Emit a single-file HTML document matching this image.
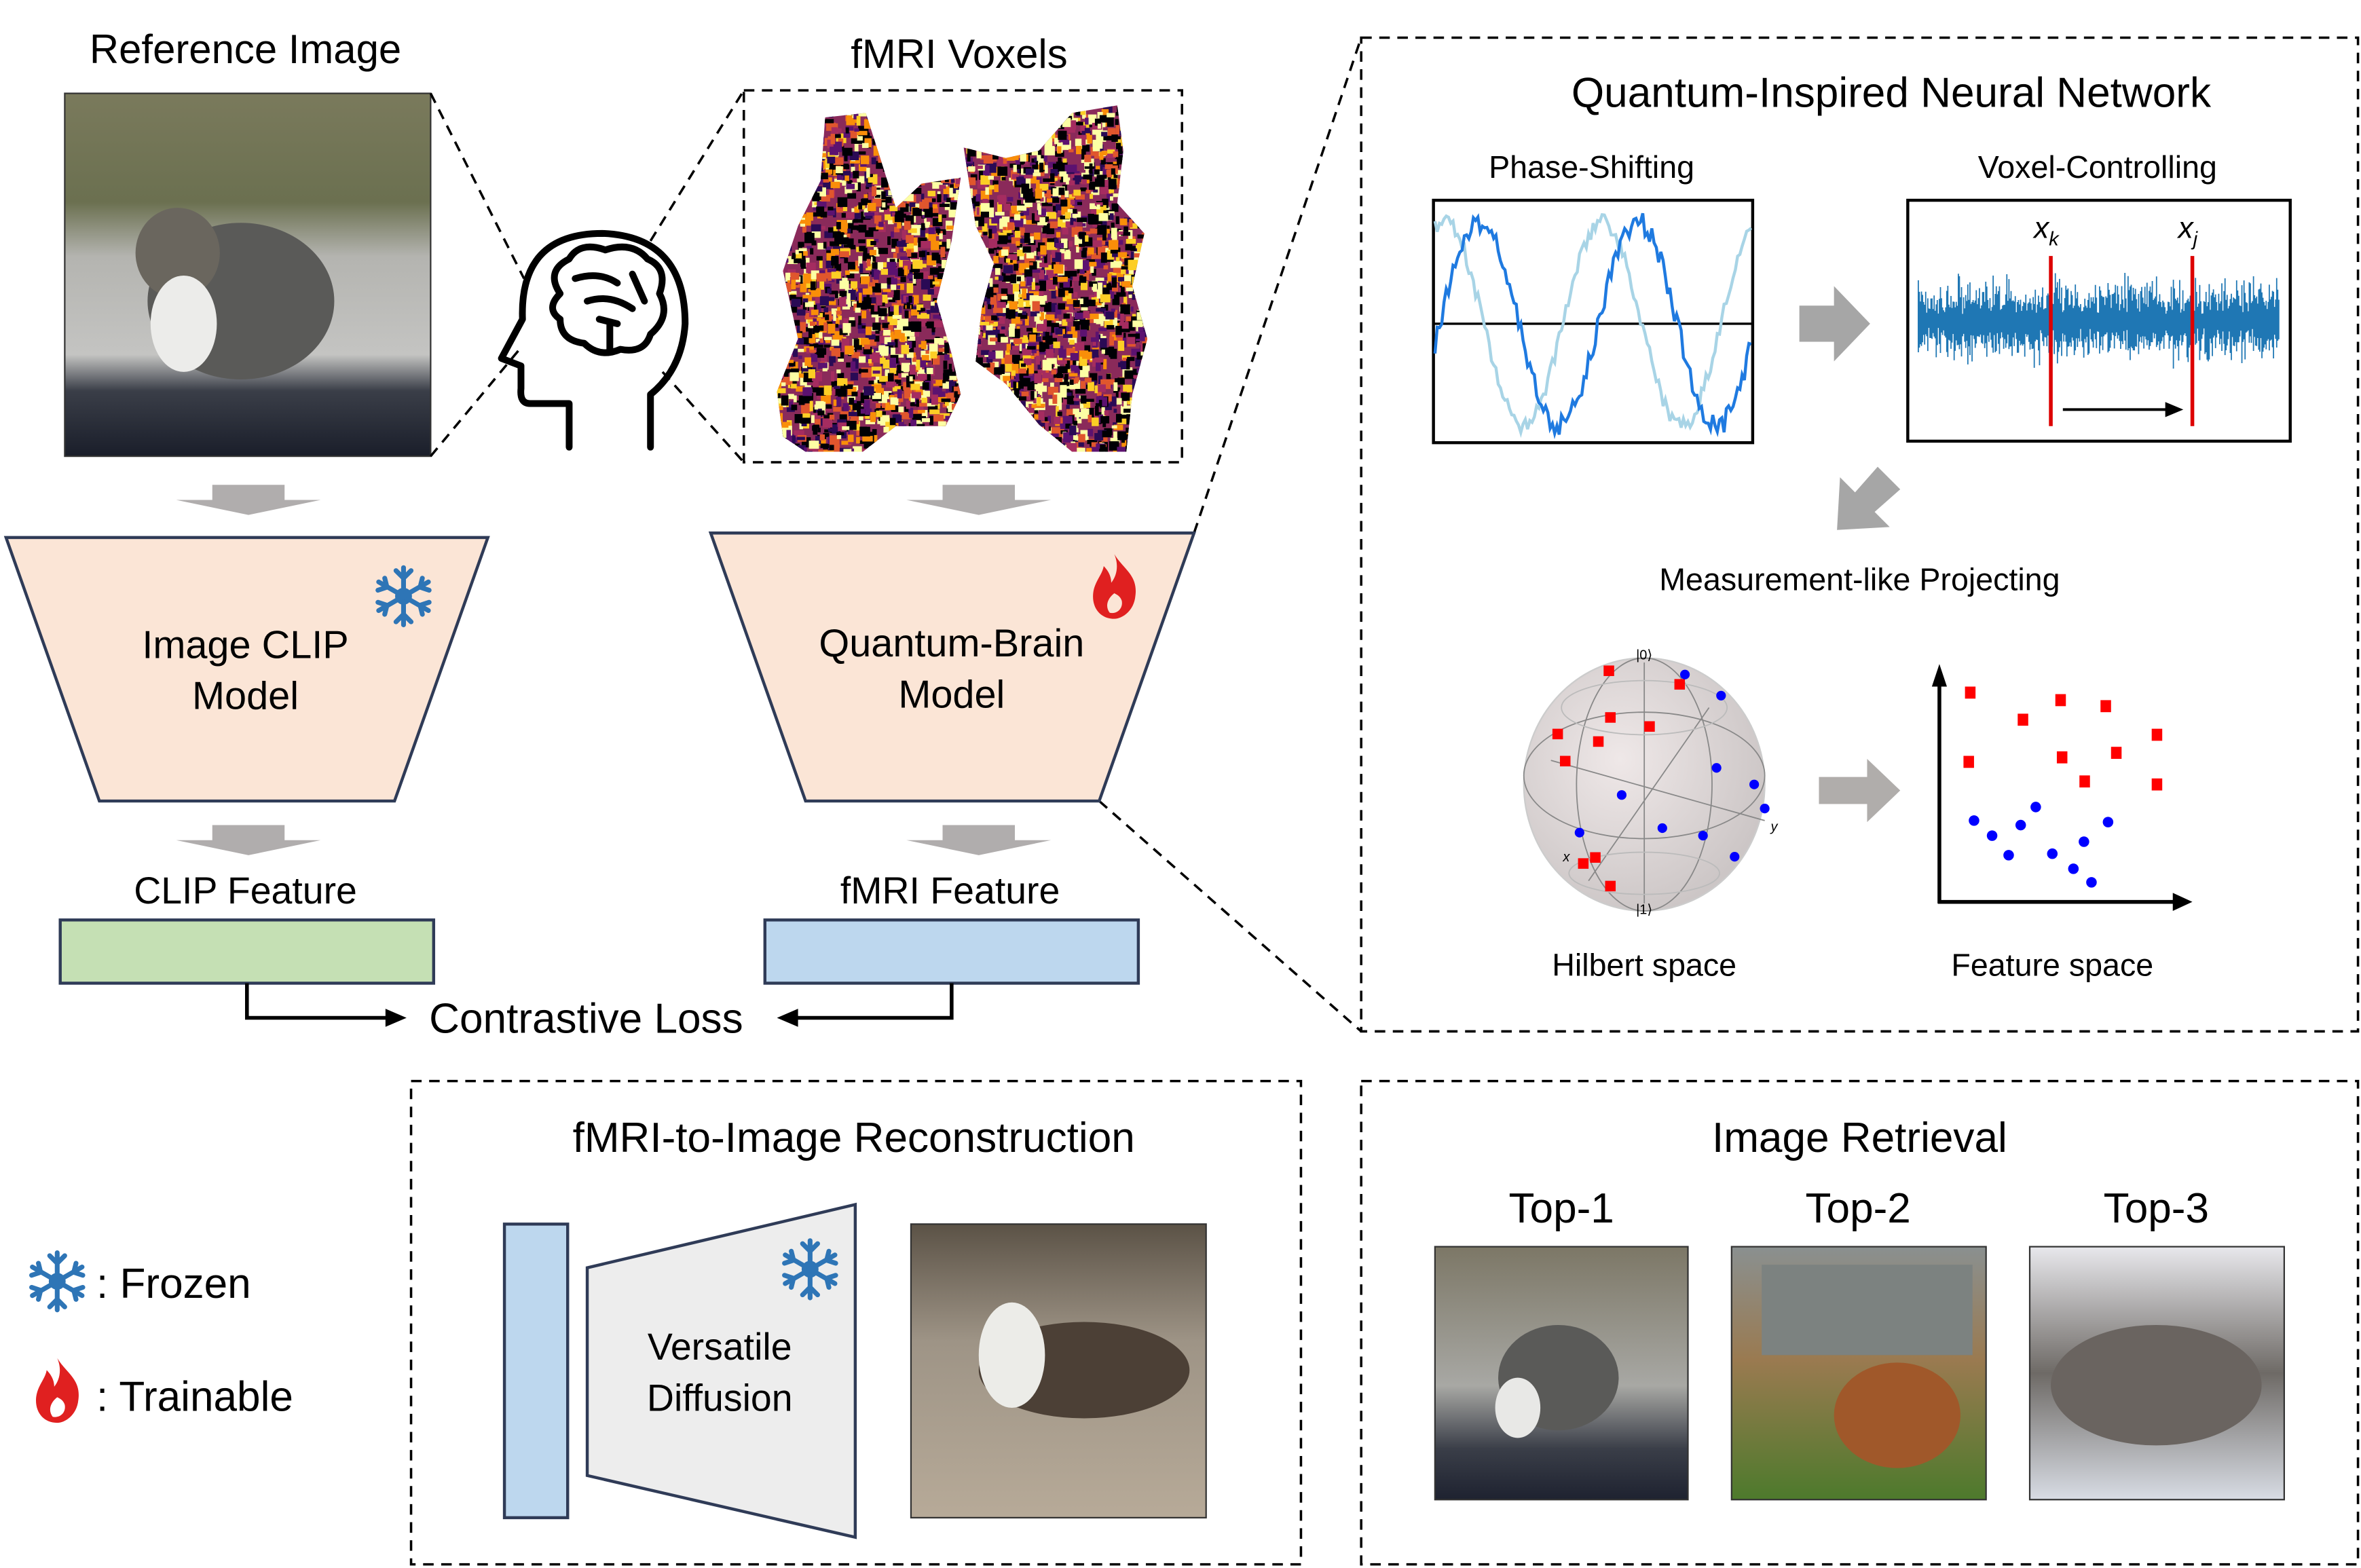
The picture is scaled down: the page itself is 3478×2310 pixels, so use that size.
<!DOCTYPE html>
<html><head><meta charset="utf-8"><style>
html,body{margin:0;padding:0;background:#fff;width:3478px;height:2310px;overflow:hidden}
svg{display:block}
text{font-family:"Liberation Sans","DejaVu Sans",sans-serif;fill:#000}
</style></head><body>
<svg id="s" width="3478" height="2310" viewBox="0 0 1568 1041.4" xmlns="http://www.w3.org/2000/svg">
<defs>
<linearGradient id="cat1" x1="0" y1="0" x2="0" y2="1"><stop offset="0" stop-color="#7a7a5c"/><stop offset="0.3" stop-color="#6b7050"/><stop offset="0.45" stop-color="#b4b4b0"/><stop offset="0.72" stop-color="#c4c4c2"/><stop offset="0.82" stop-color="#3a3e48"/><stop offset="1" stop-color="#1a1e2a"/></linearGradient>
<linearGradient id="cat2" x1="0" y1="0" x2="0" y2="1"><stop offset="0" stop-color="#5b5246"/><stop offset="0.4" stop-color="#9e9486"/><stop offset="1" stop-color="#b7aa98"/></linearGradient>
<linearGradient id="cat3" x1="0" y1="0" x2="0" y2="1"><stop offset="0" stop-color="#7c7766"/><stop offset="0.55" stop-color="#a8a8a4"/><stop offset="0.8" stop-color="#3a3e48"/><stop offset="1" stop-color="#1e2230"/></linearGradient>
<linearGradient id="cat4" x1="0" y1="0" x2="0" y2="1"><stop offset="0" stop-color="#8a9090"/><stop offset="0.45" stop-color="#9a7a50"/><stop offset="1" stop-color="#4d7a2c"/></linearGradient>
<linearGradient id="cat5" x1="0" y1="0" x2="0" y2="1"><stop offset="0" stop-color="#e8e8ec"/><stop offset="0.5" stop-color="#6e6a66"/><stop offset="1" stop-color="#d8dce4"/></linearGradient>
<radialGradient id="sph" cx="0.4" cy="0.4" r="0.7"><stop offset="0" stop-color="#efe8e8"/><stop offset="1" stop-color="#c8c2c2"/></radialGradient>
<clipPath id="b1"><path d="M548,78 L575,75 L583,100 L595,138 L612,122 L638,118 L632,160 L622,200 L632,235 L638,262 L628,283 L595,283 L573,300 L535,300 L520,290 L516,260 L530,225 L520,180 L530,150 L545,120 Z"/></clipPath>
<clipPath id="b2"><path d="M640,98 L668,105 L690,100 L712,75 L742,70 L746,100 L742,135 L760,155 L752,190 L762,225 L752,262 L748,300 L712,300 L690,282 L668,255 L648,240 L652,205 L660,175 L648,150 Z"/></clipPath>
<g id="flake"><g stroke="#2e75b6" stroke-width="3.2" stroke-linecap="round" fill="none">
<line x1="0" y1="-19" x2="0" y2="19"/><line x1="-16.5" y1="-9.5" x2="16.5" y2="9.5"/><line x1="-16.5" y1="9.5" x2="16.5" y2="-9.5"/>
<path d="M-5,-17 L0,-12 L5,-17 M-5,17 L0,12 L5,17 M-17,-4 L-11,-6 L-12.5,-12 M17,4 L11,6 L12.5,12 M-17,4 L-11,6 L-12.5,12 M17,-4 L11,-6 L12.5,-12"/>
<circle cx="0" cy="0" r="4"/></g></g>
<g id="fire"><path d="M0,-22 C6,-12 16,-8 14,6 C13,16 5,21 0,21 C-9,21 -15,14 -14,4 C-13,-4 -8,-8 -7,-14 C-3,-10 -2,-6 -2,-3 C2,-8 3,-15 0,-22 Z M0,4 C-5,8 -6,13 -3,17 C2,18 6,14 5,9 C4,6 2,5 0,4 Z" fill="#e02020" fill-rule="evenodd"/></g>
<g id="garrow"><path d="M-24,-10 H24 V0 H48 L0,10 L-48,0 H-24 Z" fill="#b0adad"/></g>
</defs>

<text x="163" y="42" font-size="27" text-anchor="middle">Reference Image</text>
<text x="637" y="45" font-size="27" text-anchor="middle">fMRI Voxels</text>

<rect x="43" y="62" width="243" height="241" fill="url(#cat1)"/>
<ellipse cx="160" cy="200" rx="62" ry="52" fill="#5a5a58"/>
<ellipse cx="118" cy="168" rx="28" ry="30" fill="#6a665e"/>
<ellipse cx="122" cy="215" rx="22" ry="32" fill="#ececea"/>
<rect x="43" y="62" width="243" height="241" fill="none" stroke="#333" stroke-width="1"/>

<g stroke="#000" stroke-width="1.6" stroke-dasharray="7,5" fill="none">
<line x1="286" y1="62" x2="348" y2="185"/><line x1="286" y1="303" x2="345" y2="232"/>
<line x1="432" y1="160" x2="494" y2="60"/><line x1="440" y1="247" x2="494" y2="307"/>
<rect x="494" y="60" width="291" height="247"/>
<line x1="793" y1="354" x2="904" y2="25"/><line x1="730" y1="532" x2="904" y2="685"/>
<rect x="904" y="25" width="662" height="660"/>
<rect x="273" y="718" width="591" height="321"/>
<rect x="904" y="718" width="662" height="321"/>
</g>

<g stroke="#000" stroke-width="4.5" fill="none" stroke-linejoin="round" stroke-linecap="round">
<path d="M378,297 V268 L352,268 Q345,268 346,258 L346,243 L333,238 L347,212 Q345,155 400,155 Q455,157 455,215 Q453,245 432,262 V297"/>
<path d="M372,195 Q362,180 378,172 Q385,160 402,166 Q420,160 430,172 Q444,178 438,195 Q446,210 432,222 Q428,235 412,232 Q398,238 388,228 Q372,226 372,212 Q362,205 372,195 Z"/>
<path d="M405,232 V215 M390,200 Q405,195 420,205 M382,185 Q398,180 410,188 M420,182 L428,200 M398,212 L410,215"/>
</g>

<g id="blob1" clip-path="url(#b1)"><rect x="510" y="70" width="135" height="235" fill="#8a2a5a"/></g>
<g id="blob2" clip-path="url(#b2)"><rect x="640" y="65" width="125" height="240" fill="#8a2a5a"/></g>

<use href="#garrow" x="165" y="332"/>
<use href="#garrow" x="650" y="332"/>
<use href="#garrow" x="165" y="558"/>
<use href="#garrow" x="650" y="558"/>

<path d="M4,357 H324 L262,532 H66 Z" fill="#fbe5d6" stroke="#2f3b57" stroke-width="2"/>
<text x="163" y="437" font-size="26" text-anchor="middle">Image CLIP</text>
<text x="163" y="471" font-size="26" text-anchor="middle">Model</text>
<use href="#flake" x="268" y="396"/>
<path d="M472,354 H793 L730,532 H535 Z" fill="#fbe5d6" stroke="#2f3b57" stroke-width="2"/>
<text x="632" y="436" font-size="26" text-anchor="middle">Quantum-Brain</text>
<text x="632" y="470" font-size="26" text-anchor="middle">Model</text>
<use href="#fire" x="740" y="390"/>

<text x="163" y="600" font-size="25" text-anchor="middle">CLIP Feature</text>
<rect x="40" y="611" width="248" height="42" fill="#c5e0b4" stroke="#2f3b57" stroke-width="2"/>
<text x="631" y="600" font-size="25" text-anchor="middle">fMRI Feature</text>
<rect x="508" y="611" width="248" height="42" fill="#bdd7ee" stroke="#2f3b57" stroke-width="2"/>
<g stroke="#000" stroke-width="2.5" fill="none"><path d="M164,653 V676 H258"/><path d="M632,653 V676 H528"/></g>
<path d="M270,676 L256,670 V682 Z" fill="#000"/><path d="M516,676 L530,670 V682 Z" fill="#000"/>
<text x="285" y="686" font-size="28">Contrastive Loss</text>

<text x="1256" y="71" font-size="28" text-anchor="middle">Quantum-Inspired Neural Network</text>
<text x="1057" y="118" font-size="21" text-anchor="middle">Phase-Shifting</text>
<text x="1393" y="118" font-size="21" text-anchor="middle">Voxel-Controlling</text>
<rect x="952" y="133" width="212" height="161" fill="#fff" stroke="#000" stroke-width="2"/>
<line x1="952" y1="215" x2="1164" y2="215" stroke="#000" stroke-width="1.5"/>
<g id="waves"></g>
<rect x="1267" y="133" width="254" height="160" fill="#fff" stroke="#000" stroke-width="2"/>
<g id="noise"></g>
<line x1="1362" y1="170" x2="1362" y2="283" stroke="#d00" stroke-width="2.5"/>
<line x1="1456" y1="170" x2="1456" y2="283" stroke="#d00" stroke-width="2.5"/>
<line x1="1370" y1="272" x2="1440" y2="272" stroke="#000" stroke-width="1.8"/>
<path d="M1450,272 L1438,267 V277 Z" fill="#000"/>
<text x="1359" y="158" font-size="20" font-style="italic" text-anchor="middle" font-family="Liberation Serif">x<tspan font-size="13" dy="5">k</tspan></text>
<text x="1453" y="158" font-size="20" font-style="italic" text-anchor="middle" font-family="Liberation Serif">x<tspan font-size="13" dy="5">j</tspan></text>
<path d="M1195,203 H1218 V190 L1242,215 L1218,240 V227 H1195 Z" fill="#a6a6a6"/>
<path d="M1247,310 L1262,325 L1245,340 L1255,350 L1220,352 L1222,317 L1232,327 Z" fill="#a6a6a6"/>
<text x="1235" y="392" font-size="21" text-anchor="middle">Measurement-like Projecting</text>

<ellipse cx="1092" cy="521" rx="80" ry="84" fill="url(#sph)" stroke="#ccc" stroke-width="1"/>
<g stroke="#888" stroke-width="0.8" fill="none">
<ellipse cx="1092" cy="515" rx="80" ry="42"/><ellipse cx="1092" cy="521" rx="45" ry="84"/>
<line x1="1092" y1="440" x2="1092" y2="600"/><line x1="1030" y1="505" x2="1172" y2="545"/><line x1="1055" y1="585" x2="1135" y2="470"/>
<ellipse cx="1092" cy="470" rx="55" ry="18" stroke="#bbb"/><ellipse cx="1092" cy="580" rx="50" ry="14" stroke="#bbb"/>
</g>
<text x="1092" y="438" font-size="9" text-anchor="middle">|0⟩</text>
<text x="1092" y="607" font-size="9" text-anchor="middle">|1⟩</text>
<text x="1038" y="572" font-size="9" font-style="italic">x</text>
<text x="1176" y="552" font-size="9" font-style="italic">y</text>
<g fill="#f00">
<rect x="1065" y="442" width="7" height="7"/><rect x="1112" y="451" width="7" height="7"/><rect x="1066" y="473" width="7" height="7"/><rect x="1092" y="479" width="7" height="7"/><rect x="1031" y="484" width="7" height="7"/><rect x="1058" y="489" width="7" height="7"/><rect x="1036" y="502" width="7" height="7"/><rect x="1056" y="566" width="7" height="7"/><rect x="1048" y="570" width="7" height="7"/><rect x="1066" y="585" width="7" height="7"/>
<rect x="1305" y="456" width="7" height="8"/><rect x="1340" y="474" width="7" height="8"/><rect x="1365" y="461" width="7" height="8"/><rect x="1395" y="465" width="7" height="8"/><rect x="1429" y="484" width="7" height="8"/><rect x="1304" y="502" width="7" height="8"/><rect x="1366" y="499" width="7" height="8"/><rect x="1402" y="496" width="7" height="8"/><rect x="1381" y="515" width="7" height="8"/><rect x="1429" y="517" width="7" height="8"/>
</g>
<g fill="#00f">
<circle cx="1119" cy="448" r="3.2"/><circle cx="1143" cy="462" r="3.2"/><circle cx="1140" cy="510" r="3.2"/><circle cx="1077" cy="528" r="3.2"/><circle cx="1165" cy="521" r="3.2"/><circle cx="1172" cy="537" r="3.2"/><circle cx="1049" cy="553" r="3.2"/><circle cx="1104" cy="550" r="3.2"/><circle cx="1131" cy="555" r="3.2"/><circle cx="1152" cy="569" r="3.2"/>
<circle cx="1352" cy="536" r="3.5"/><circle cx="1311" cy="545" r="3.5"/><circle cx="1342" cy="548" r="3.5"/><circle cx="1400" cy="546" r="3.5"/><circle cx="1323" cy="555" r="3.5"/><circle cx="1384" cy="559" r="3.5"/><circle cx="1334" cy="568" r="3.5"/><circle cx="1363" cy="567" r="3.5"/><circle cx="1377" cy="577" r="3.5"/><circle cx="1389" cy="586" r="3.5"/>
</g>
<path d="M1208,516 H1240 V504 L1262,525 L1240,546 V534 H1208 Z" fill="#b0adab"/>
<g stroke="#000" stroke-width="2.5"><line x1="1288" y1="600" x2="1288" y2="455"/><line x1="1287" y1="599" x2="1445" y2="599"/></g>
<path d="M1288,441 L1283,456 H1293 Z" fill="#000"/><path d="M1456,599 L1443,593 V605 Z" fill="#000"/>
<text x="1092" y="648" font-size="21" text-anchor="middle">Hilbert space</text>
<text x="1363" y="648" font-size="21" text-anchor="middle">Feature space</text>

<text x="567" y="765" font-size="28" text-anchor="middle">fMRI-to-Image Reconstruction</text>
<rect x="335" y="813" width="42" height="195" fill="#bdd7ee" stroke="#2f3b57" stroke-width="2"/>
<path d="M390,842 L568,800 V1021 L390,980 Z" fill="#ededed" stroke="#2f3b57" stroke-width="2"/>
<text x="478" y="903" font-size="25" text-anchor="middle">Versatile</text>
<text x="478" y="937" font-size="25" text-anchor="middle">Diffusion</text>
<use href="#flake" x="538" y="843"/>
<rect x="605" y="813" width="196" height="195" fill="url(#cat2)"/>
<ellipse cx="720" cy="910" rx="70" ry="32" fill="#4c4036"/>
<ellipse cx="672" cy="900" rx="22" ry="35" fill="#ecece8"/>
<rect x="605" y="813" width="196" height="195" fill="none" stroke="#333" stroke-width="1"/>

<use href="#flake" x="38" y="851"/>
<text x="64" y="862" font-size="28">: Frozen</text>
<use href="#fire" x="38" y="924"/>
<text x="64" y="937" font-size="28">: Trainable</text>

<text x="1235" y="765" font-size="28" text-anchor="middle">Image Retrieval</text>
<text x="1037" y="812" font-size="28" text-anchor="middle">Top-1</text>
<text x="1234" y="812" font-size="28" text-anchor="middle">Top-2</text>
<text x="1432" y="812" font-size="28" text-anchor="middle">Top-3</text>
<rect x="953" y="828" width="168" height="168" fill="url(#cat3)"/>
<ellipse cx="1035" cy="915" rx="40" ry="35" fill="#5a5a58"/><ellipse cx="1008" cy="935" rx="15" ry="20" fill="#e8e8e6"/>
<rect x="1150" y="828" width="169" height="168" fill="url(#cat4)"/>
<rect x="1170" y="840" width="140" height="60" fill="#7c8280"/>
<ellipse cx="1260" cy="940" rx="42" ry="35" fill="#a0582a"/>
<rect x="1348" y="828" width="169" height="168" fill="url(#cat5)"/>
<ellipse cx="1432" cy="920" rx="70" ry="40" fill="#6a6460"/>
<g fill="none" stroke="#333" stroke-width="1"><rect x="953" y="828" width="168" height="168"/><rect x="1150" y="828" width="169" height="168"/><rect x="1348" y="828" width="169" height="168"/></g>
</svg>
<script>
(function(){
var NS="http://www.w3.org/2000/svg";var seed=7;function r(){seed=(seed*16807)%2147483647;return seed/2147483647;}
function el(p,t,a){var e=document.createElementNS(NS,t);for(var k in a)e.setAttribute(k,a[k]);p.appendChild(e);return e;}
var cols=["#000004","#000004","#2a0a55","#5c1270","#a52c60","#e0562d","#f98e09","#fcce25","#fcffa4","#fcffa4","#000004"];
[["blob1",510,70,135,235],["blob2",640,65,125,240]].forEach(function(b){var g=document.getElementById(b[0]);
for(var i=0;i<2200;i++){el(g,"rect",{x:b[1]+r()*b[3],y:b[2]+r()*b[4],width:2+r()*5,height:2+r()*5,fill:cols[Math.floor(r()*cols.length)]});}});
var w=document.getElementById("waves");
function wave(ph,c,noise){var d="";for(var x=0;x<=210;x+=1.5){var y=215-68*Math.sin((x/210)*2*2*Math.PI+ph)+(r()-0.5)*noise;y=Math.max(136,Math.min(291,y));d+=(x?"L":"M")+(953+x).toFixed(1)+","+y.toFixed(1);}el(w,"path",{d:d,fill:"none",stroke:c,"stroke-width":2});}
wave(1.2,"#a8d4e6",10);wave(-0.2,"#1f7ae0",14);
var n=document.getElementById("noise"),d="";for(var x=1274;x<=1514;x+=0.7){var a=8+r()*14;d+="M"+x.toFixed(1)+","+(213-a*(0.5+r()))+"V"+(213+a*(0.5+r()));}
el(n,"path",{d:d,stroke:"#1f77b4","stroke-width":0.8,fill:"none"});
})();
</script>
</body></html>
